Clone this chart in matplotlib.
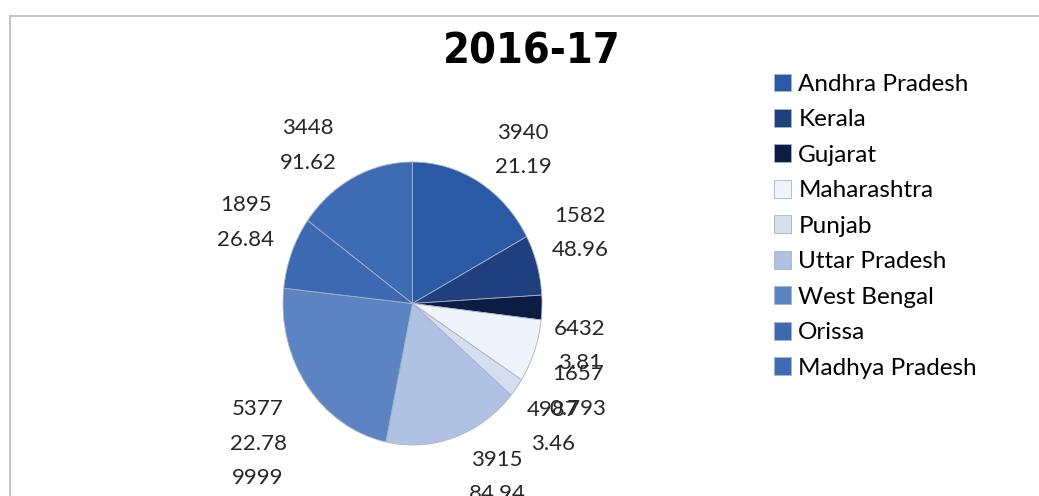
import matplotlib
matplotlib.use("Agg")
import matplotlib.pyplot as plt

states = ["Andhra Pradesh", "Kerala", "Gujarat", "Maharashtra", "Punjab",
          "Uttar Pradesh", "West Bengal", "Orissa", "Madhya Pradesh"]
values = [3940, 1582, 643.2, 1657, 498.7, 3915, 5377, 1895, 3448]
label_top = ["3940", "1582", "6432", "1657", "4987", "3915", "5377", "1895", "3448"]
label_bottom = ["21.19", "48.96", "3.81", "0.793", "3.46", "84.94", "22.78\n9999", "26.84", "91.62"]

colors = ["#2A5AA6", "#1F3F7E", "#0B1D44", "#EFF3FA", "#D5DEEF",
          "#AFC2E3", "#5C83C2", "#3C69B2", "#3D6BB4"]

# where the data labels sit (pie radius = 1)
label_pos = [(0.853, 1.085), (1.293, 0.499), (1.293, -0.300), (1.278, -0.621),
             (1.085, -0.872), (0.653, -1.226), (-1.193, -0.992), (-1.286, 0.573),
             (-0.807, 1.117)]

W, H = 1039, 496
fig = plt.figure(figsize=(W / 100, H / 100), dpi=100)

# chart frame: left edge at 10px, top edge at 16px, runs off right/bottom
ax = fig.add_axes([10 / W, (H - 510) / H, 1040 / W, 494 / H])
cx, cy, rx, ry = 412.5, 303.5, 129.5, 141.5

wedges, _ = ax.pie(values, colors=colors, startangle=90, counterclock=False,
                   wedgeprops=dict(edgecolor="#a9b3c4", linewidth=0.6))
ax.set_aspect("auto")
ax.set_xlim(-(cx - 10) / rx, (1050 - cx) / rx)
ax.set_ylim(-(510 - cy) / ry, (cy - 16) / ry)
ax.set_frame_on(True)
ax.set_xticks([])
ax.set_yticks([])
for s in ax.spines.values():
    s.set_color("#c6c6c6")
    s.set_linewidth(1.5)

lab_font = ["Lato", "DejaVu Sans"]
for (x, y), t, b in zip(label_pos, label_top, label_bottom):
    ax.text(x, y, t + "\n" + b, ha="center", va="center", fontsize=16,
            family=lab_font, color="#262626", linespacing=1.9, clip_on=False)

fig.text(532 / W, 1 - 51 / H, "2016-17", ha="center", va="center",
         fontsize=31, fontweight="bold", fontstretch="condensed",
         family=["DejaVu Sans"])

fig.legend(wedges, states, loc="upper left", bbox_to_anchor=(774 / W, 1 - 73.5 / H),
           bbox_transform=fig.transFigure, frameon=False, prop=dict(family=lab_font, size=17.5),
           handlelength=0.7, handleheight=0.75, handletextpad=0.3,
           labelspacing=0.58, borderpad=0, borderaxespad=0)

fig.savefig("out.png", dpi=100)
